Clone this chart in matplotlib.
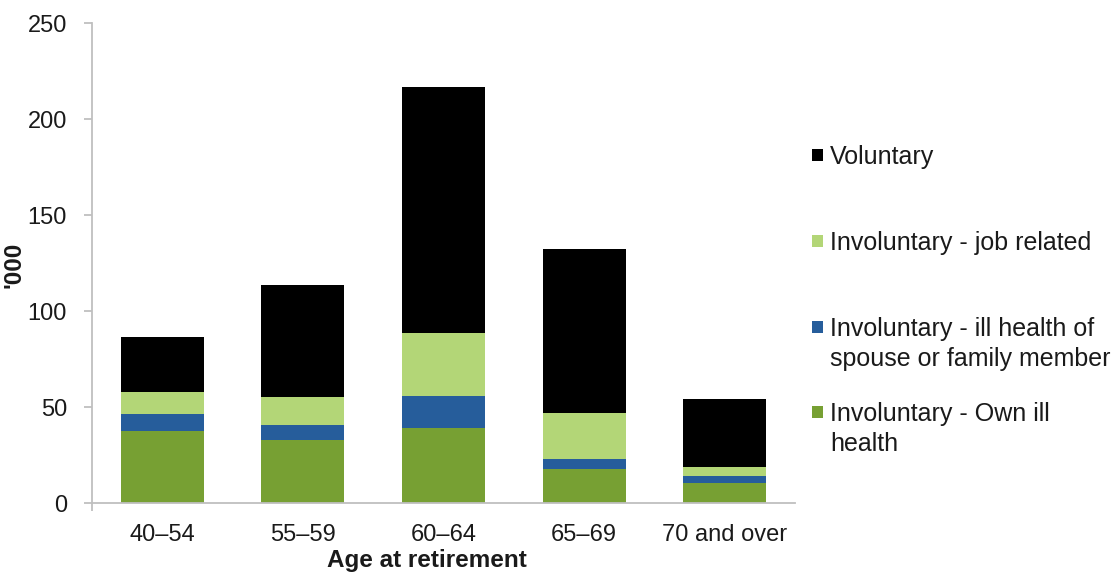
import matplotlib
matplotlib.use("Agg")
import matplotlib.pyplot as plt
from matplotlib.patches import Rectangle
import numpy as np

categories = ["40\u201354", "55\u201359", "60\u201364", "65\u201369", "70 and over"]
own_ill_health = [37.7, 33.0, 39.1, 17.7, 10.2]
family_ill_health = [8.7, 7.4, 16.5, 5.3, 3.9]
job_related = [11.5, 15.0, 32.8, 23.8, 4.8]
voluntary = [28.8, 58.3, 128.2, 85.6, 35.4]

series = [
    ("Involuntary - Own ill\nhealth", own_ill_health, "#77A033"),
    ("Involuntary - ill health of\nspouse or family member", family_ill_health, "#265D9B"),
    ("Involuntary - job related", job_related, "#B3D677"),
    ("Voluntary", voluntary, "#000000"),
]

plt.rcParams['font.family'] = ['Liberation Sans', 'DejaVu Sans']
FS = 17
LFS = 18
TXT = "#1a1a1a"

W, H = 1114, 573
fig = plt.figure(figsize=(W / 100, H / 100), dpi=100)
ax = fig.add_axes([92 / W, (H - 503) / H, (795 - 92) / W, (503 - 23) / H])

x = np.arange(len(categories))
bottom = np.zeros(len(categories))
for label, vals, color in series:
    ax.bar(x, vals, width=0.59, bottom=bottom, color=color, edgecolor="none", label=label)
    bottom += np.array(vals)

ax.set_xlim(-0.5, len(categories) - 0.5)
ax.set_ylim(0, 250)
ax.set_yticks(np.arange(0, 251, 50))
ax.set_xticks(x)
ax.set_xticklabels(categories)
ax.set_xticks([-0.5], minor=True)

for s in ["top", "right"]:
    ax.spines[s].set_visible(False)
for s in ["left", "bottom"]:
    ax.spines[s].set_color("#BFBFBF")
    ax.spines[s].set_linewidth(1.3)

ax.tick_params(axis="y", length=6, width=1.3, color="#BFBFBF", pad=12, labelsize=FS, labelcolor=TXT)
ax.tick_params(axis="x", which="major", length=0, pad=15, labelsize=FS, labelcolor=TXT)
ax.tick_params(axis="x", which="minor", length=6, width=1.3, color="#BFBFBF")

fig.text(427 / W, 1 - 560 / H, "Age at retirement", ha="center", va="center",
         fontsize=17.5, fontweight="bold", color=TXT)
fig.text(14 / W, 1 - 265 / H, "'000", ha="center", va="center", rotation=90,
         fontsize=17.5, fontweight="bold", color=TXT)

# legend (Excel-style, evenly spaced by first line)
legend_items = [series[3], series[2], series[1], series[0]]
first_line_y = [155, 241, 327, 412]
for (label, vals, color), yc in zip(legend_items, first_line_y):
    fig.patches.append(Rectangle((812 / W, 1 - (yc + 6) / H), 11 / W, 12 / H,
                                 transform=fig.transFigure, facecolor=color,
                                 edgecolor="none", figure=fig))
    fig.text(830 / W, 1 - (yc - 10) / H, label, ha="left", va="top",
             fontsize=LFS, color=TXT, linespacing=1.3)

fig.savefig("out.png", dpi=100)
